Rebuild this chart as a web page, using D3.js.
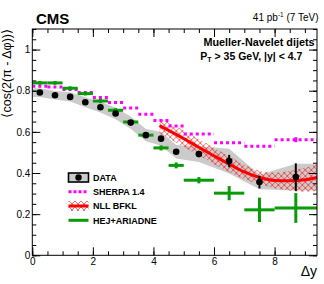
<!DOCTYPE html>
<html>
<head>
<meta charset="utf-8">
<script src="https://cdn.jsdelivr.net/npm/d3@7"></script>
<style>
  body { margin: 0; background: #fff; }
  text { font-family: "Liberation Sans", Arial, Helvetica, sans-serif; }
</style>
</head>
<body>
<div id="chart"></div>
<script>
// Chart values
//================================
var binLo = [0, 0.5, 1, 1.5, 2, 2.5, 3, 3.5, 4, 4.5, 5, 6, 7, 8];
var binHi = [0.5, 1, 1.5, 2, 2.5, 3, 3.5, 4, 4.5, 5, 6, 7, 8, 9.4];

var dataX = [0.25, 0.75, 1.25, 1.75, 2.25, 2.75, 3.25, 3.75, 4.25, 4.75, 5.5, 6.5, 7.5, 8.7];
var dataY = [0.791, 0.778, 0.770, 0.744, 0.720, 0.689, 0.645, 0.584, 0.567, 0.503, 0.492, 0.458, 0.356, 0.380];
var dataStat = [0.005, 0.005, 0.005, 0.005, 0.005, 0.006, 0.006, 0.007, 0.008, 0.01, 0.012, 0.03, 0.031, 0.067];
var dataSys = [0.021, 0.021, 0.022, 0.024, 0.026, 0.028, 0.03, 0.03, 0.034, 0.033, 0.038, 0.06, 0.035, 0.065];

var sherpaY = [0.822, 0.818, 0.806, 0.791, 0.767, 0.743, 0.716, 0.686, 0.655, 0.628, 0.59, 0.547, 0.53, 0.562];
var sherpaErr = [0, 0, 0, 0, 0, 0, 0, 0, 0, 0, 0, 0, 0, 0.012];

var hejY = [0.838, 0.838, 0.812, 0.786, 0.75, 0.705, 0.648, 0.584, 0.522, 0.437, 0.365, 0.302, 0.221, 0.23];
var hejErr = [0.002, 0.002, 0.002, 0.002, 0.003, 0.003, 0.003, 0.004, 0.005, 0.007, 0.008, 0.027, 0.052, 0.065];

var bfklX = [4.2, 4.5, 5.0, 5.5, 6.0, 6.5, 7.0, 7.5, 8.0, 8.5, 9.0, 9.4];
var bfklY = [0.63, 0.607, 0.567, 0.525, 0.483, 0.443, 0.405, 0.378, 0.364, 0.362, 0.367, 0.378];
var bfklErr = [0.038, 0.038, 0.04, 0.04, 0.04, 0.038, 0.035, 0.033, 0.038, 0.048, 0.058, 0.065];

var xTicks = [0, 2, 4, 6, 8];
var xTickLabels = ["0", "2", "4", "6", "8"];
var yTicks = [0, 0.2, 0.4, 0.6, 0.8, 1];
var yTickLabels = ["0", "0.2", "0.4", "0.6", "0.8", "1"];

var legendLabels = ["DATA", "SHERPA 1.4", "NLL BFKL", "HEJ+ARIADNE"];

// Set up chart area
//================================
var svgWidth = 324;
var svgHeight = 284;

var margin = { top: 29, right: 7, bottom: 28.7, left: 32.3 };
var width = svgWidth - margin.left - margin.right;
var height = svgHeight - margin.top - margin.bottom;

var magenta = "#ff00ff";
var red = "#ff0000";
var green = "#0a9a0a";
var grey = "#cbcbcb";

var svg = d3.select("#chart")
  .append("svg")
  .attr("width", svgWidth)
  .attr("height", svgHeight);

// crosshatch for the BFKL band
var pat = svg.append("defs").append("pattern")
  .attr("id", "hatch")
  .attr("patternUnits", "userSpaceOnUse")
  .attr("width", 6)
  .attr("height", 6);
pat.append("path")
  .attr("d", "M0,0 L6,6 M6,0 L0,6 M-1,5 L1,7 M5,-1 L7,1 M-1,1 L1,-1 M5,7 L7,5")
  .attr("stroke", red)
  .attr("stroke-width", 0.6);

var chartGroup = svg.append("g")
  .attr("transform", `translate(${margin.left}, ${margin.top})`);

var x = d3.scaleLinear().domain([0, 9.4]).range([0, width]);
var y = d3.scaleLinear().domain([0, 1.1]).range([height, 0]);

// Systematic band of the data
var bandPts = dataX.map((d, i) => ({ x: d, y: dataY[i], e: dataSys[i] }));
bandPts.unshift({ x: 0, y: dataY[0], e: dataSys[0] });
bandPts.push({ x: 9.4, y: dataY[dataY.length - 1], e: dataSys[dataSys.length - 1] });

chartGroup.append("path")
  .datum(bandPts)
  .attr("fill", grey)
  .attr("d", d3.area()
    .x(d => x(d.x))
    .y0(d => y(d.y - d.e))
    .y1(d => y(d.y + d.e)));

// NLL BFKL band + line
var bfkl = bfklX.map((d, i) => ({ x: d, y: bfklY[i], e: bfklErr[i] }));

chartGroup.append("path")
  .datum(bfkl)
  .attr("fill", "url(#hatch)")
  .attr("d", d3.area()
    .curve(d3.curveMonotoneX)
    .x(d => x(d.x))
    .y0(d => y(d.y - d.e))
    .y1(d => y(d.y + d.e)));

chartGroup.append("path")
  .datum(bfkl)
  .attr("fill", "none")
  .attr("stroke", red)
  .attr("stroke-width", 3)
  .attr("d", d3.line()
    .curve(d3.curveMonotoneX)
    .x(d => x(d.x))
    .y(d => y(d.y)));

// SHERPA: dotted segments per bin
chartGroup.selectAll(".sherpa")
  .data(sherpaY)
  .enter()
  .append("line")
  .attr("class", "sherpa")
  .attr("x1", (d, i) => x(binLo[i]))
  .attr("x2", (d, i) => x(binHi[i]))
  .attr("y1", d => y(d))
  .attr("y2", d => y(d))
  .attr("stroke", magenta)
  .attr("stroke-width", 3)
  .attr("stroke-dasharray", "3,3");

chartGroup.selectAll(".sherpaErr")
  .data(sherpaY)
  .enter()
  .append("line")
  .attr("class", "sherpaErr")
  .attr("x1", (d, i) => x((binLo[i] + binHi[i]) / 2))
  .attr("x2", (d, i) => x((binLo[i] + binHi[i]) / 2))
  .attr("y1", (d, i) => y(d - sherpaErr[i]))
  .attr("y2", (d, i) => y(d + sherpaErr[i]))
  .attr("stroke", magenta)
  .attr("stroke-width", 3);

// HEJ+ARIADNE: solid segments + error bars
chartGroup.selectAll(".hej")
  .data(hejY)
  .enter()
  .append("line")
  .attr("class", "hej")
  .attr("x1", (d, i) => x(binLo[i]))
  .attr("x2", (d, i) => x(binHi[i]))
  .attr("y1", d => y(d))
  .attr("y2", d => y(d))
  .attr("stroke", green)
  .attr("stroke-width", 3);

chartGroup.selectAll(".hejErr")
  .data(hejY)
  .enter()
  .append("line")
  .attr("class", "hejErr")
  .attr("x1", (d, i) => x((binLo[i] + binHi[i]) / 2))
  .attr("x2", (d, i) => x((binLo[i] + binHi[i]) / 2))
  .attr("y1", (d, i) => y(d - hejErr[i]) + 1.5)
  .attr("y2", (d, i) => y(d + hejErr[i]) - 1.5)
  .attr("stroke", green)
  .attr("stroke-width", 3);

// Data points with stat errors
chartGroup.selectAll(".dataErr")
  .data(dataY)
  .enter()
  .append("line")
  .attr("class", "dataErr")
  .attr("x1", (d, i) => x(dataX[i]))
  .attr("x2", (d, i) => x(dataX[i]))
  .attr("y1", (d, i) => y(d - dataStat[i]))
  .attr("y2", (d, i) => y(d + dataStat[i]))
  .attr("stroke", "black")
  .attr("stroke-width", 2);

chartGroup.selectAll(".dot")
  .data(dataY)
  .enter()
  .append("circle")
  .attr("class", "dot")
  .attr("cx", (d, i) => x(dataX[i]))
  .attr("cy", d => y(d))
  .attr("r", 3.3)
  .attr("fill", "black");

// Axes, ROOT style ticks inside on all four sides
function tickGroup(axis, tf) {
  var g = chartGroup.append("g").attr("transform", tf).call(axis);
  g.select(".domain").remove();
  g.selectAll("line").attr("stroke", "black");
  return g;
}

var xMinor = d3.range(0, 9.41, 0.5);
var yMinor = d3.range(0, 1.101, 0.05);

tickGroup(d3.axisBottom(x).tickValues(xMinor).tickSize(-4).tickFormat(""), `translate(0, ${height})`);
tickGroup(d3.axisTop(x).tickValues(xMinor).tickSize(-4).tickFormat(""), "translate(0, 0)");
tickGroup(d3.axisTop(x).tickValues(xTicks).tickSize(-8).tickFormat(""), "translate(0, 0)");
var bx = tickGroup(d3.axisBottom(x).tickValues(xTicks).tickSize(-8).tickPadding(3)
  .tickFormat((d, i) => xTickLabels[i]), `translate(0, ${height})`);
bx.selectAll("text").style("font-size", "10px").attr("fill", "black");

tickGroup(d3.axisLeft(y).tickValues(yMinor).tickSize(-4).tickFormat(""), "translate(0, 0)");
tickGroup(d3.axisRight(y).tickValues(yMinor).tickSize(-4).tickFormat(""), `translate(${width}, 0)`);
tickGroup(d3.axisRight(y).tickValues(yTicks).tickSize(-8).tickFormat(""), `translate(${width}, 0)`);
var ly = tickGroup(d3.axisLeft(y).tickValues(yTicks).tickSize(-8).tickPadding(2)
  .tickFormat((d, i) => yTickLabels[i]), "translate(0, 0)");
ly.selectAll("text").style("font-size", "10px").attr("fill", "black");

// Frame
chartGroup.append("rect")
  .attr("width", width)
  .attr("height", height)
  .attr("fill", "none")
  .attr("stroke", "black")
  .attr("stroke-width", 1);

// Texts
svg.append("text")
  .attr("x", 36)
  .attr("y", 24)
  .style("font-size", "15px")
  .style("font-weight", "bold")
  .text("CMS");

var lumi = svg.append("text")
  .attr("x", 318.5)
  .attr("y", 20.5)
  .attr("text-anchor", "end")
  .style("font-size", "10px");
lumi.append("tspan").text("41 pb");
lumi.append("tspan").attr("dy", -4).style("font-size", "6.5px").text("-1");
lumi.append("tspan").attr("dy", 4).text(" (7 TeV)");

svg.append("text")
  .attr("x", 314.5)
  .attr("y", 46)
  .attr("text-anchor", "end")
  .style("font-size", "10.8px")
  .style("font-weight", "bold")
  .text("Mueller-Navelet dijets");

var cut = svg.append("text")
  .attr("x", 200.3)
  .attr("y", 59.5)
  .style("font-size", "10.5px")
  .style("font-weight", "bold");
cut.append("tspan").text("P");
cut.append("tspan").attr("dy", 2.5).style("font-size", "7px").text("T");
cut.append("tspan").attr("dy", -2.5).text(" > 35 GeV, |y| < 4.7");

svg.append("text")
  .attr("transform", "translate(10.5, 29) rotate(-90)")
  .attr("text-anchor", "end")
  .style("font-size", "12.5px")
  .text("\u27E8cos(2(\u03C0 - \u0394\u03C6))\u27E9");

svg.append("text")
  .attr("x", 317)
  .attr("y", 276)
  .attr("text-anchor", "end")
  .style("font-size", "14px")
  .text("\u0394y");

// Legend
var legRows = [177.5, 191.8, 206, 220.3];
var lx0 = 68.5, lx1 = 88.5;

svg.append("rect")
  .attr("x", lx0).attr("y", legRows[0] - 4.5)
  .attr("width", lx1 - lx0).attr("height", 9)
  .attr("fill", grey).attr("stroke", "black").attr("stroke-width", 1.6);
svg.append("circle")
  .attr("cx", (lx0 + lx1) / 2).attr("cy", legRows[0]).attr("r", 3.2).attr("fill", "black");

svg.append("line")
  .attr("x1", lx0).attr("x2", lx1).attr("y1", legRows[1]).attr("y2", legRows[1])
  .attr("stroke", magenta).attr("stroke-width", 3).attr("stroke-dasharray", "3,2");

svg.append("rect")
  .attr("x", lx0).attr("y", legRows[2] - 5)
  .attr("width", lx1 - lx0).attr("height", 10)
  .attr("fill", "url(#hatch)");
svg.append("line")
  .attr("x1", lx0).attr("x2", lx1).attr("y1", legRows[2]).attr("y2", legRows[2])
  .attr("stroke", red).attr("stroke-width", 3);

svg.append("line")
  .attr("x1", lx0).attr("x2", lx1).attr("y1", legRows[3]).attr("y2", legRows[3])
  .attr("stroke", green).attr("stroke-width", 3);

svg.selectAll(".legText")
  .data(legendLabels)
  .enter()
  .append("text")
  .attr("class", "legText")
  .attr("x", 93)
  .attr("y", (d, i) => legRows[i])
  .attr("dy", "0.36em")
  .style("font-size", "9px")
  .style("font-weight", "bold")
  .text(d => d);
</script>
</body>
</html>
